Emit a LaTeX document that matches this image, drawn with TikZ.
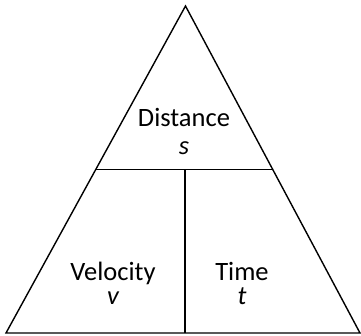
\documentclass[tikz,border=0pt]{standalone}
\usepackage{fontspec}
\setmainfont{Carlito}
\usetikzlibrary{calc}

\begin{document}
\begin{tikzpicture}[x=1pt, y=-1pt,
    edge/.style={line width=1.4pt, black, line join=miter},
    word/.style={anchor=base, inner sep=0pt, font=\fontsize{26.5}{30}\selectfont},
    sym/.style={word, font=\fontsize{26.5}{30}\selectfont\itshape}]
  \useasboundingbox (0,0) rectangle (361,336);
  % corners of the triangle
  \coordinate (apex) at (185.5,6);
  \coordinate (bl) at (6,333);
  \coordinate (br) at (360,333);
  \coordinate (ml) at ($(bl)!0.5!(apex)$);
  \coordinate (mr) at ($(br)!0.5!(apex)$);
  \coordinate (mc) at (185,169.5);
  \coordinate (bc) at (185,333);
  \draw[edge] (apex) -- (bl) -- (br) -- cycle;
  \draw[edge] (ml) -- (mr);
  \draw[edge] (mc) -- (bc);
  % labels
  \node[word] (dist) at (184,127) {Distance};
  \node[sym] (s) at (184,155) {s};
  \node[word] (vel) at (113,281) {Velocity};
  \node[sym] (v) at (113,305) {v};
  \node[word] (time) at (242,281) {Time};
  \node[sym] (t) at (242,305) {t};
\end{tikzpicture}
\end{document}
